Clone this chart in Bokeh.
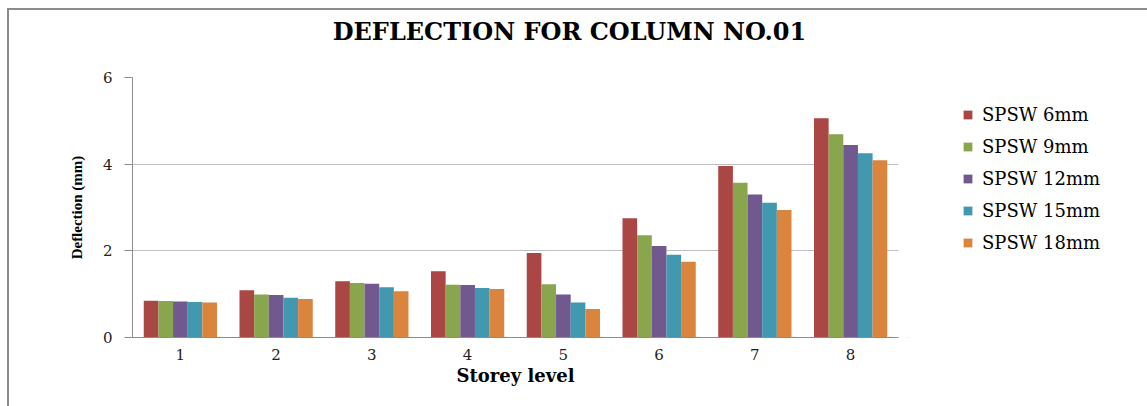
from bokeh.plotting import figure
from bokeh.models import (ColumnDataSource, FactorRange, FixedTicker, Legend, LegendItem, Label)
from bokeh.transform import dodge
from bokeh.layouts import row, column
from bokeh.embed import file_html
from bokeh.resources import INLINE

# ---- data ----
chart_title = "DEFLECTION FOR COLUMN NO.01"
storeys = ["1", "2", "3", "4", "5", "6", "7", "8"]
spsw_6mm = [0.85, 1.09, 1.30, 1.53, 1.95, 2.75, 3.96, 5.06]
spsw_9mm = [0.84, 0.99, 1.26, 1.22, 1.23, 2.36, 3.57, 4.69]
spsw_12mm = [0.83, 0.98, 1.24, 1.21, 0.99, 2.11, 3.30, 4.44]
spsw_15mm = [0.82, 0.92, 1.16, 1.14, 0.81, 1.91, 3.11, 4.25]
spsw_18mm = [0.81, 0.89, 1.07, 1.12, 0.66, 1.75, 2.94, 4.09]
series_names = ["SPSW 6mm", "SPSW 9mm", "SPSW 12mm", "SPSW 15mm", "SPSW 18mm"]
y_ticks = [0, 2, 4, 6]

colors = ["#AA4643", "#89A54E", "#71588F", "#4198AF", "#DB843D"]

source = ColumnDataSource(dict(storey=storeys, s6=spsw_6mm, s9=spsw_9mm,
                               s12=spsw_12mm, s15=spsw_15mm, s18=spsw_18mm))
keys = ["s6", "s9", "s12", "s15", "s18"]

serif = "DejaVu Serif"

# ---- title strip ----
top = figure(width=1138, height=40, x_range=(0, 1138), y_range=(0, 40),
             output_backend="svg", toolbar_location=None,
             min_border_left=0, min_border_right=0, min_border_top=0, min_border_bottom=0)
top.axis.visible = False
top.grid.visible = False
top.outline_line_color = None
top.add_layout(Label(x=560, y=19, text=chart_title, text_font=serif, text_font_size="24px",
                     text_font_style="bold", text_color="#000000",
                     text_align="center", text_baseline="middle"))

# ---- main chart ----
p = figure(width=899, height=356, x_range=FactorRange(*storeys), y_range=(0, 6),
           output_backend="svg", toolbar_location=None,
           min_border_left=123, min_border_right=10, min_border_top=27, min_border_bottom=69)

bw = 0.153
for i, (k, c) in enumerate(zip(keys, colors)):
    off = (i - 2) * bw
    p.vbar(x=dodge("storey", off, range=p.x_range), top=k, width=bw, source=source,
           fill_color=c, line_color=None)

p.outline_line_color = None
p.xgrid.grid_line_color = None
p.ygrid.grid_line_color = "#BFBFBF"
p.ygrid.grid_line_width = 1

p.yaxis.ticker = FixedTicker(ticks=y_ticks)
p.yaxis.axis_line_color = "#8C8C8C"
p.yaxis.major_tick_line_color = "#8C8C8C"
p.yaxis.major_tick_out = 8
p.yaxis.major_tick_in = 0
p.yaxis.minor_tick_line_color = None
p.yaxis.major_label_text_font = serif
p.yaxis.major_label_text_font_size = "15px"
p.yaxis.major_label_text_color = "#222222"
p.yaxis.major_label_standoff = 12
p.yaxis.axis_label = "Deflection (mm)"
p.yaxis.axis_label_text_font = "Liberation Serif"
p.yaxis.axis_label_text_font_style = "bold"
p.yaxis.axis_label_text_font_size = "15px"
p.yaxis.axis_label_text_color = "#000000"
p.yaxis.axis_label_standoff = 15

p.xaxis.axis_line_color = "#8C8C8C"
p.xaxis.major_tick_line_color = None
p.xaxis.minor_tick_line_color = None
p.xaxis.major_label_text_font = serif
p.xaxis.major_label_text_font_size = "15px"
p.xaxis.major_label_text_color = "#222222"
p.xaxis.major_label_standoff = 5
p.xaxis.axis_label = "Storey level"
p.xaxis.axis_label_text_font = serif
p.xaxis.axis_label_text_font_style = "bold"
p.xaxis.axis_label_text_font_size = "18px"
p.xaxis.axis_label_text_color = "#000000"
p.xaxis.axis_label_standoff = 2

# ---- legend panel ----
p2 = figure(width=239, height=356, x_range=(0, 1), y_range=(0, 1),
            output_backend="svg", toolbar_location=None,
            min_border_left=0, min_border_right=0, min_border_top=0, min_border_bottom=0)
p2.axis.visible = False
p2.grid.visible = False
p2.outline_line_color = None

items = []
for c, name in zip(colors, series_names):
    # off-range placeholder so the legend swatch has a glyph to draw
    r = p2.vbar(x=[-10], top=[-10], width=0.1, fill_color=c, line_color=None)
    items.append(LegendItem(label=name, renderers=[r]))

legend = Legend(items=items, location=(54, 84), orientation="vertical",
                glyph_width=11, glyph_height=11, label_standoff=9, spacing=11,
                label_height=20, padding=0, margin=0, border_line_color=None,
                background_fill_alpha=0, label_text_font=serif, label_text_font_size="18px",
                label_text_color="#000000")
p2.add_layout(legend, "center")

layout = column(top, row(p, p2))
layout.styles = {"border-left": "2px solid #8C8C8C", "border-top": "2px solid #8C8C8C",
                 "margin-left": "7px", "margin-top": "8px"}

open("out.html", "w").write(file_html(layout, INLINE))
